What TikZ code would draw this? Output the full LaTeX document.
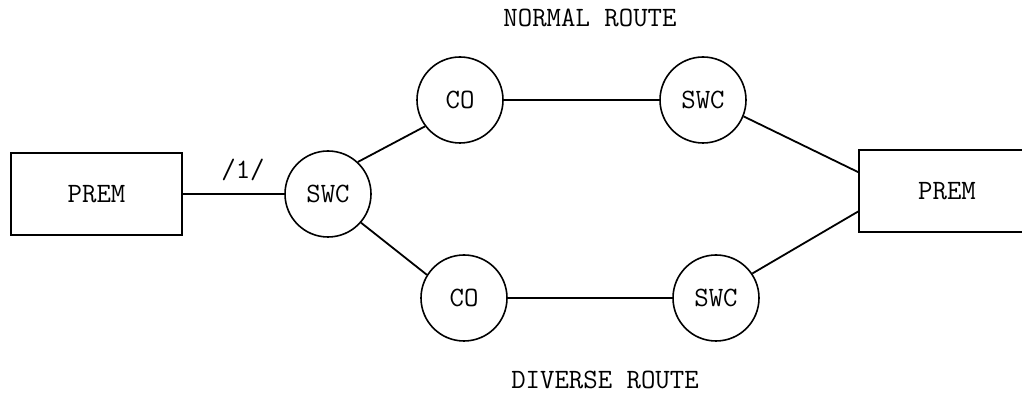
\documentclass[tikz,border=0pt]{standalone}
\usepackage{fontspec}
\begin{document}
\begin{tikzpicture}[x=0.5pt,y=-0.5pt,
  every node/.style={font=\ttfamily\fontsize{14}{16}\selectfont},
  premBox/.style={draw,line width=0.9pt,rectangle,minimum height=41pt,inner sep=0pt},
  swBall/.style={draw,line width=0.8pt,circle,minimum size=43pt,inner sep=0pt},
  lnk/.style={line width=0.9pt},
  lbl/.style={inner sep=0pt}]
\useasboundingbox (0,0) rectangle (1022,394);
\node[premBox,minimum width=85.5pt] (prem1) at (96.5,194) {PREM};
\node[premBox,minimum width=88pt] (prem2) at (947,191) {PREM};
\node[swBall] (swc1) at (328,194) {SWC};
\node[swBall] (co1) at (460,100) {CO};
\node[swBall] (swc2) at (703,100) {SWC};
\node[swBall] (co2) at (464,298) {CO};
\node[swBall] (swc3) at (716,298) {SWC};
\node[lbl] (one) at (243,170) {/1/};
\node[lbl] (normal) at (590,18) {NORMAL ROUTE};
\node[lbl] (diverse) at (605,380) {DIVERSE ROUTE};
\draw[lnk] (prem1.east) -- (swc1.west);
\draw[lnk] (swc1.47) -- (co1.217);
\draw[lnk] (swc1.-41) -- (co2.148);
\draw[lnk] (co1.east) -- (swc2.west);
\draw[lnk] (co2.east) -- (swc3.west);
\draw[lnk] (swc2.-22) -- (prem2.168);
\draw[lnk] (swc3.34) -- (prem2.193);
\end{tikzpicture}
\end{document}
